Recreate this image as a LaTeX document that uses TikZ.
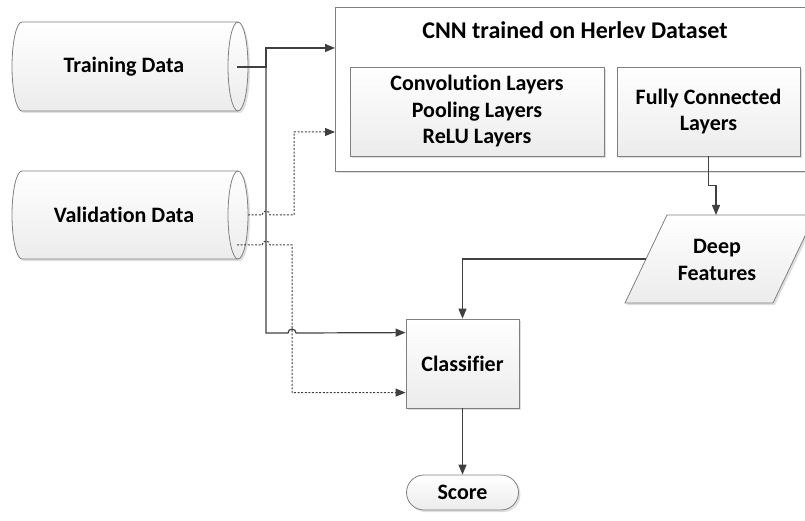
\documentclass[tikz,border=0pt]{standalone}
\usepackage{fontspec}
\setmainfont{Carlito}[Ligatures=NoCommon]
\usetikzlibrary{arrows.meta,shadows,calc}
\definecolor{lnc}{HTML}{404040}
\definecolor{bdc}{HTML}{808080}
\definecolor{shd}{HTML}{ECECEC}
\tikzset{
  shadowed/.style={drop shadow={shadow xshift=2pt,shadow yshift=-2pt,opacity=0.25,fill=gray}},
  boxsh/.style={draw=bdc, line width=0.8pt, top color=white, bottom color=shd, shadowed},
  lbl/.style={font=\fontsize{22}{26.5}\selectfont\bfseries, align=center, text=black, inner sep=0pt},
  ttl/.style={font=\fontsize{24}{28}\selectfont\bfseries, align=center, text=black, inner sep=0pt},
  conn/.style={draw=lnc, line width=1.2pt},
  dconn/.style={draw=lnc, line width=1pt, dash pattern=on 2pt off 1.6pt},
  tip/.style={-{Triangle[length=10pt,width=8pt]}}
}
\begin{document}
\begin{tikzpicture}[x=1pt,y=-1pt]
\useasboundingbox (0,0) rectangle (805,521);
\clip (0,0) rectangle (805,521);

% Training Data cylinder
\path[boxsh] (238,22) -- (22,22) arc[start angle=270,end angle=90,x radius=10,y radius=44.5]
  -- (238,111) arc[start angle=90,end angle=-90,x radius=10,y radius=44.5] -- cycle;
\draw[draw=bdc, line width=0.8pt] (238,22) arc[start angle=270,end angle=90,x radius=10,y radius=44.5];
\node[lbl] (train) at (124,67) {Training Data};
\coordinate (trainR) at (237,67);

% Validation Data cylinder
\path[boxsh] (238,171) -- (22,171) arc[start angle=270,end angle=90,x radius=10,y radius=44]
  -- (238,259) arc[start angle=90,end angle=-90,x radius=10,y radius=44] -- cycle;
\draw[draw=bdc, line width=0.8pt] (238,171) arc[start angle=270,end angle=90,x radius=10,y radius=44];
\node[lbl] (val) at (124,215) {Validation Data};
\coordinate (valR) at (248,215);
\coordinate (valC) at (237,245);

% CNN outer box
\node[draw=bdc, line width=0.8pt, fill=white, shadowed, minimum width=480pt, minimum height=164pt,
  anchor=north west, inner sep=0pt] (cnn) at (335,7) {};
\node[ttl] (cnnt) at (575,30) {CNN trained on Herlev Dataset};
\node[boxsh, minimum width=254pt, minimum height=89pt, inner sep=0pt, lbl] (conv) at (477,111.5)
  {Convolution Layers\\Pooling Layers\\ReLU Layers};
\node[boxsh, minimum width=183pt, minimum height=89pt, inner sep=0pt, lbl] (fc) at (708.5,111.5)
  {Fully Connected\\Layers};

% Deep Features parallelogram
\path[boxsh] (667,215) -- (815,215) -- (773,303) -- (625,303) -- cycle;
\node[lbl] (deep) at (717,260) {Deep\\Features};
\coordinate (deepT) at (716,215);
\coordinate (deepL) at (646,259);

% Classifier
\node[boxsh, minimum width=113pt, minimum height=89pt, inner sep=0pt, lbl] (clf) at (462.5,363.5) {Classifier};

% Score
\node[boxsh, rounded corners=17.5pt, minimum width=112pt, minimum height=35pt, inner sep=0pt, lbl] (score) at (462.5,492.5) {Score};

% connectors
\coordinate (tj) at (266,67);
\draw[conn,tip] (trainR) -- (tj) |- ($(cnn.north west)+(0,41)$);
\draw[conn,tip] (tj) -- (266,333) -- (288,333) arc[start angle=180,end angle=360,radius=4]
  -- ($(clf.north west)+(0,14)$);
\draw[dconn,tip] (valR) -- (262,215) arc[start angle=180,end angle=360,radius=4]
  -- (294,215) |- ($(cnn.north west)+(0,125)$);
\draw[dconn,tip] (valC) -- (262,245) arc[start angle=180,end angle=360,radius=4]
  -- (292,245) |- ($(clf.north west)+(0,74)$);
\draw[conn,tip] (fc.south) -- ++(0,29) -- ++(7.5,0) -- (deepT);
\draw[conn,tip] (deepL) -| (clf.north);
\draw[conn,tip] (clf.south) -- (score.north);
\end{tikzpicture}
\end{document}
